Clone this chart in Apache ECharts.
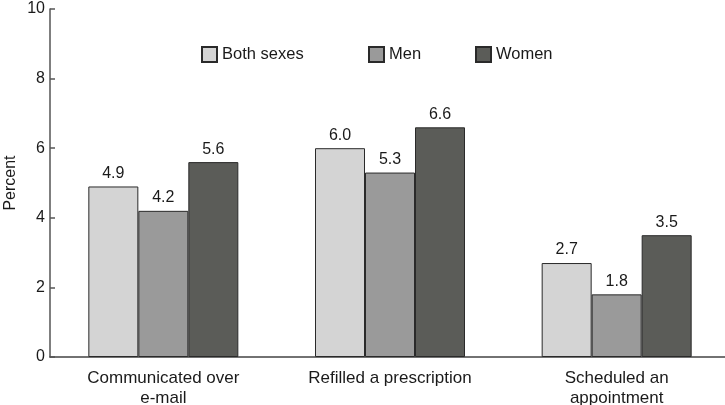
<!DOCTYPE html>
<html><head><meta charset="utf-8">
<script src="https://cdn.jsdelivr.net/npm/echarts@6/dist/echarts.min.js"></script>
<style>html,body{margin:0;padding:0;background:#fff}#c{width:725px;height:405px}</style>
</head><body><div id="c"></div>
<script>
const categories = ['Communicated over\ne-mail', 'Refilled a prescription', 'Scheduled an\nappointment'];
const bothSexes = [4.9, 6.0, 2.7];
const men = [4.2, 5.3, 1.8];
const women = [5.6, 6.6, 3.5];
const seriesNames = ['Both sexes', 'Men', 'Women'];
const colors = ['#d4d4d4', '#9a9a9a', '#5b5c58'];
const font = 'Liberation Sans, Arial, sans-serif';

const chart = echarts.init(document.getElementById('c'));
const mk = (name, data, color) => ({
  name, type: 'bar', data, barWidth: 50, barGap: '0%',
  itemStyle: { color, borderColor: '#2a2a2a', borderWidth: 1 },
  label: { show: true, position: 'top', distance: 5, color: '#1a1a1a', fontSize: 16, fontFamily: font,
    formatter: p => p.value.toFixed(1) },
  emphasis: { disabled: true }
});
const legendBase = { top: 46, padding: 0, itemWidth: 15, itemHeight: 15, icon: 'rect', itemGap: 5,
  textStyle: { fontSize: 16.5, fontFamily: font, color: '#1a1a1a' }, selectedMode: false };
chart.setOption({
  animation: false,
  legend: [
    Object.assign({}, legendBase, { left: 201, data: [seriesNames[0]] }),
    Object.assign({}, legendBase, { left: 368, data: [seriesNames[1]] }),
    Object.assign({}, legendBase, { left: 475, data: [seriesNames[2]] })
  ],
  grid: { left: 50, width: 680, top: 9, bottom: 48, outerBoundsMode: 'none', containLabel: false },
  xAxis: {
    type: 'category', data: categories,
    axisLine: { lineStyle: { color: '#444', width: 1.5 } },
    axisTick: { show: false },
    axisLabel: { fontSize: 17, fontFamily: font, color: '#1a1a1a', margin: 11, lineHeight: 20, interval: 0 }
  },
  yAxis: {
    type: 'value', min: 0, max: 10, interval: 2,
    name: 'Percent', nameLocation: 'middle', nameGap: 31, nameRotate: 90, nameMoveOverlap: false,
    nameTextStyle: { fontSize: 16, fontFamily: font, color: '#1a1a1a' },
    axisLine: { show: true, lineStyle: { color: '#555', width: 1.5 } },
    axisTick: { show: true, inside: true, length: 5, lineStyle: { color: '#555', width: 1.5 } },
    splitLine: { show: false },
    axisLabel: { fontSize: 16, fontFamily: font, color: '#1a1a1a', margin: 5 }
  },
  series: [mk(seriesNames[0], bothSexes, colors[0]), mk(seriesNames[1], men, colors[1]), mk(seriesNames[2], women, colors[2])]
});
</script></body></html>
